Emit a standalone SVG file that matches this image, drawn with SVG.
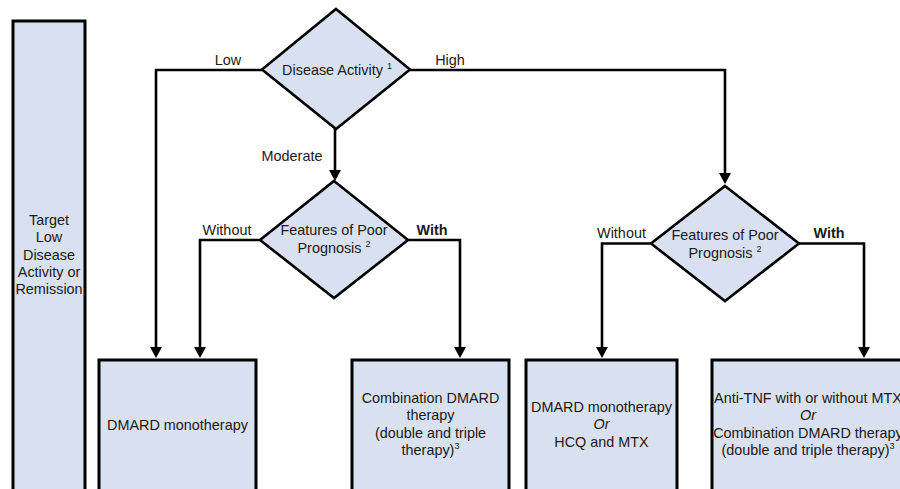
<svg xmlns="http://www.w3.org/2000/svg" width="900" height="489" viewBox="0 0 900 489">
<style>
.shape{fill:#D9E0EF;stroke:#000;stroke-width:2.6}
.box{fill:#D9E0EF;stroke:#000;stroke-width:3}
.t{font-family:"Liberation Sans",Arial,sans-serif;font-size:14.4px;fill:#1a1a1a;text-anchor:middle}
.lbl{font-family:"Liberation Sans",Arial,sans-serif;font-size:14.4px;fill:#1a1a1a;text-anchor:middle}
.b{font-weight:bold}
.sup{font-size:9px}
.c{fill:none;stroke:#000;stroke-width:2.6;marker-end:url(#arr)}
.cn{fill:none;stroke:#000;stroke-width:2.6}
</style>
<defs>
<marker id="arr" markerUnits="userSpaceOnUse" markerWidth="12" markerHeight="12" refX="8" refY="6" orient="auto">
<path d="M0,0 L11,6 L0,12 Z" fill="#000"/>
</marker>
</defs>
<rect width="900" height="489" fill="#fff"/>

<g id="target">
<rect class="box" x="13" y="21" width="72" height="480"/>
<text class="t" x="49" y="225">Target</text>
<text class="t" x="49" y="242.3">Low</text>
<text class="t" x="49" y="259.6">Disease</text>
<text class="t" x="49" y="276.9">Activity or</text>
<text class="t" x="49" y="294.2">Remission</text>
</g>

<g id="connectors">
<path class="c" d="M262,70 H156 V355"/>
<path class="c" d="M410,70 H725 V181"/>
<path class="c" d="M335,129 V178"/>
<path class="c" d="M260,240 H200 V355"/>
<path class="c" d="M408,240 H460 V355"/>
<path class="c" d="M651,243.5 H602 V355"/>
<path class="c" d="M799,243.5 H864 V355"/>
<text class="lbl" x="228" y="65">Low</text>
<text class="lbl" x="450" y="65">High</text>
<text class="lbl" x="292" y="161">Moderate</text>
<text class="lbl" x="227" y="235">Without</text>
<text class="lbl b" x="432" y="235">With</text>
<text class="lbl" x="621.5" y="238">Without</text>
<text class="lbl b" x="829" y="238">With</text>
</g>

<g id="disease-activity">
<polygon class="shape" points="336,9 410,69.5 336,129 262,69.5"/>
<text class="t" x="337" y="75">Disease Activity <tspan class="sup" dy="-6">1</tspan></text>
</g>

<g id="prognosis-moderate">
<polygon class="shape" points="334,181 408,240 334,298 260,240"/>
<text class="t" x="334" y="235">Features of Poor</text>
<text class="t" x="334" y="252.5">Prognosis <tspan class="sup" dy="-6">2</tspan></text>
</g>

<g id="prognosis-high">
<polygon class="shape" points="725,186 799,243.5 725,301 651,243.5"/>
<text class="t" x="725" y="240">Features of Poor</text>
<text class="t" x="725" y="257.5">Prognosis <tspan class="sup" dy="-6">2</tspan></text>
</g>

<g id="dmard-mono">
<rect class="box" x="99" y="360" width="157" height="140"/>
<text class="t" x="177.5" y="430">DMARD monotherapy</text>
</g>

<g id="combination">
<rect class="box" x="352" y="360" width="157" height="140"/>
<text class="t" x="430.5" y="403">Combination DMARD</text>
<text class="t" x="430.5" y="420.3">therapy</text>
<text class="t" x="430.5" y="437.6">(double and triple</text>
<text class="t" x="430.5" y="454.9">therapy)<tspan class="sup" dy="-6">3</tspan></text>
</g>

<g id="mono-or-hcq">
<rect class="box" x="526" y="360" width="151" height="140"/>
<text class="t" x="601.5" y="412">DMARD monotherapy</text>
<text class="t" x="601.5" y="429.3" font-style="italic">Or</text>
<text class="t" x="601.5" y="446.6">HCQ and MTX</text>
</g>

<g id="anti-tnf">
<rect class="box" x="712" y="360" width="200" height="140"/>
<text class="t" x="808" y="403">Anti-TNF with or without MTX</text>
<text class="t" x="808" y="420.3" font-style="italic">Or</text>
<text class="t" x="808" y="437.6">Combination DMARD therapy</text>
<text class="t" x="808" y="454.9">(double and triple therapy)<tspan class="sup" dy="-6">3</tspan></text>
</g>
</svg>
